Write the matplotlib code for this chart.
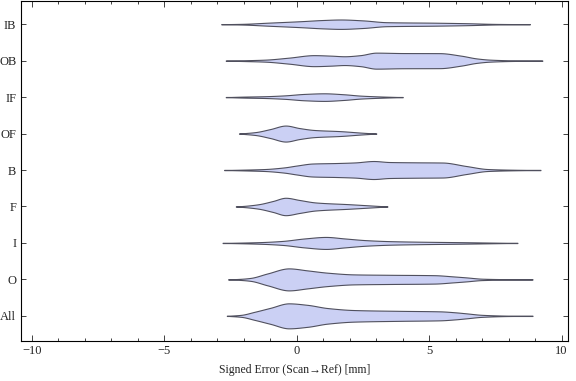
import numpy as np
import matplotlib
matplotlib.use("Agg")
import matplotlib.pyplot as plt
from matplotlib.ticker import MultipleLocator

plt.rcParams['font.family'] = ['Liberation Serif', 'DejaVu Serif']

# categories bottom -> top
categories = ["All", "O", "I", "F", "B", "OF", "IF", "OB", "IB"]

# density profiles: knot positions (mm) and relative half-widths
prof_x = {
    "IB": [-2.85, -2.0, -1.1, 0.15, 1.0, 1.66, 2.5, 3.4, 5.2, 6.4, 7.5, 8.8],
    "OB": [-2.68, -2.0, -1.2, -0.3, 0.65, 1.3, 1.8, 2.4, 3.0, 4.0, 5.4, 6.2, 6.8, 7.3, 8.2, 9.27],
    "IF": [-2.68, -2.0, -1.2, -0.48, 0.3, 1.03, 1.8, 2.4, 3.2, 4.0],
    "OF": [-2.18, -1.55, -1.0, -0.42, 0.1, 0.65, 1.66, 2.4, 3.0],
    "B":  [-2.74, -2.0, -1.2, -0.48, 0.0, 0.6, 1.5, 2.2, 2.9, 3.5, 4.5, 5.5, 6.4, 7.2, 8.2, 9.2],
    "F":  [-2.3, -1.9, -1.43, -0.9, -0.42, 0.1, 0.72, 1.96, 2.8, 3.42],
    "I":  [-2.8, -2.0, -1.3, -0.54, 0.3, 1.1, 1.8, 2.6, 3.5, 4.5, 6.4, 7.5, 8.33],
    "O":  [-2.59, -2.1, -1.74, -1.1, -0.3, 0.4, 1.16, 2.16, 3.5, 5.2, 5.9, 6.4, 7.0, 8.0, 8.9],
    "All": [-2.64, -2.1, -1.6, -1.0, -0.3, 0.4, 1.16, 2.16, 3.9, 5.4, 6.0, 6.4, 7.0, 8.0, 8.9],
}
prof_w = {
    "IB": [0, 0.4, 1.5, 3.0, 4.2, 4.7, 3.8, 2.0, 1.5, 1.0, 0.3, 0],
    "OB": [0, 0.4, 1.0, 3.0, 5.5, 5.0, 4.4, 5.5, 8.0, 7.6, 7.5, 5.0, 2.2, 1.0, 0.3, 0],
    "IF": [0, 0.5, 0.9, 1.7, 3.2, 3.8, 2.8, 1.5, 0.6, 0],
    "OF": [0, 1.5, 4.5, 8.0, 5.5, 3.6, 2.4, 1.0, 0],
    "B":  [0, 0.4, 1.0, 2.6, 4.5, 6.5, 7.0, 7.6, 9.0, 8.0, 7.7, 7.5, 4.0, 1.0, 0.3, 0],
    "F":  [0, 0.8, 2.3, 5.5, 8.7, 6.5, 4.0, 2.3, 1.0, 0],
    "I":  [0, 0.4, 0.9, 2.0, 4.5, 6.0, 4.5, 2.8, 1.8, 1.3, 0.7, 0.3, 0],
    "O":  [0, 0.6, 1.5, 6.0, 11.0, 9.0, 6.7, 5.0, 4.6, 4.2, 3.0, 2.0, 0.7, 0.2, 0],
    "All": [0, 1.0, 4.0, 8.0, 12.5, 11.0, 7.8, 5.8, 5.0, 4.5, 3.5, 2.5, 1.0, 0.2, 0],
}

xticks = [-10, -5, 0, 5, 10]
xlabel = "Signed Error (Scan\u2192Ref) [mm]"


def pchip(x, y, xs):
    x = np.asarray(x, float); y = np.asarray(y, float)
    h = np.diff(x); d = np.diff(y) / h
    n = len(x); m = np.zeros(n)
    for k in range(1, n - 1):
        if d[k - 1] * d[k] > 0:
            w1 = 2 * h[k] + h[k - 1]; w2 = h[k] + 2 * h[k - 1]
            m[k] = (w1 + w2) / (w1 / d[k - 1] + w2 / d[k])
    m[0] = d[0] if n > 1 else 0
    m[-1] = d[-1]
    idx = np.clip(np.searchsorted(x, xs) - 1, 0, n - 2)
    t = (xs - x[idx]) / h[idx]
    h00 = 2 * t**3 - 3 * t**2 + 1; h10 = t**3 - 2 * t**2 + t
    h01 = -2 * t**3 + 3 * t**2; h11 = t**3 - t**2
    return h00 * y[idx] + h10 * h[idx] * m[idx] + h01 * y[idx + 1] + h11 * h[idx] * m[idx + 1]


fig = plt.figure(figsize=(5.76, 3.81), dpi=100)
ax = fig.add_axes([20.5 / 576, 40 / 381, (568 - 20.5) / 576, 340.5 / 381])

scale = 1 / 36.46
for i, c in enumerate(categories):
    pos = i + 1
    xk = prof_x[c]
    xs = np.linspace(xk[0], xk[-1], 600)
    w = np.maximum(pchip(xk, prof_w[c], xs), 0) * scale
    w = np.maximum(w, 0.004)
    ax.fill_between(xs, pos - w, pos + w, facecolor='#cbd0f4', edgecolor='#50505e',
                    linewidth=0.8, zorder=2)

ax.set_xlim(-10.43, 10.24)
ax.set_ylim(0.31, 9.65)
ax.set_yticks(range(1, len(categories) + 1))
ax.set_yticklabels(categories)
ax.set_xticks(xticks)
ax.set_xticklabels(["\u221210", "\u22125", "0", "5", "10"])
ax.xaxis.set_minor_locator(MultipleLocator(1))
ax.tick_params(which='both', direction='in', top=True, right=True, width=0.6,
               labelsize=9, colors='#222222', labelcolor='#222222')
ax.tick_params(which='major', length=4, pad=3)
ax.tick_params(which='minor', length=2.3)
ax.tick_params(axis='y', which='major', length=3.5, pad=3)
for s in ax.spines.values():
    s.set_linewidth(0.8)
    s.set_color('black')
ax.set_xlabel(xlabel, fontsize=8.5, color='#222222', labelpad=5)

fig.savefig("out.png", dpi=100)
